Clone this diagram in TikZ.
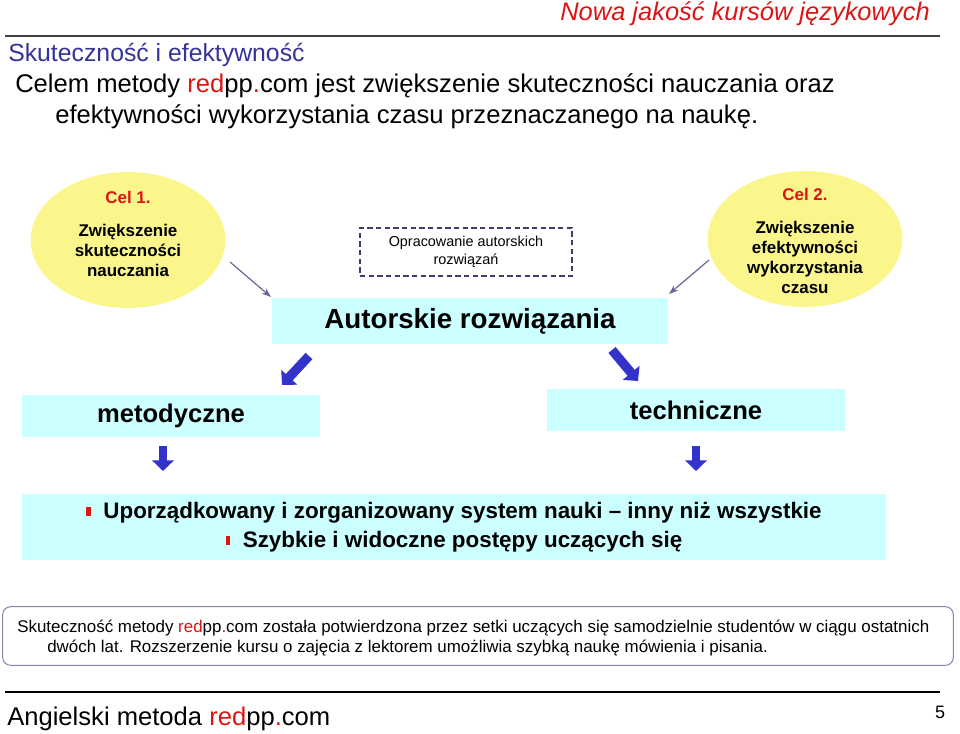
\documentclass[tikz,border=0pt]{standalone}
\usepackage{fontspec}
\setmainfont{Liberation Sans}
\usepackage{tikz}
\usetikzlibrary{arrows.meta,positioning,shapes.geometric}
\definecolor{cyanbox}{RGB}{204,255,255}
\definecolor{goalyellow}{RGB}{250,246,140}
\definecolor{headblue}{RGB}{51,51,153}
\definecolor{thinarrow}{RGB}{102,102,153}
\definecolor{blockblue}{RGB}{51,51,204}
\definecolor{dashblue}{RGB}{60,60,110}
\definecolor{redpp}{RGB}{220,20,20}
\newcommand{\redpp}{\textcolor{redpp}{red}pp\textcolor{redpp}{.}com}
\newcommand{\sqbullet}{\textcolor{redpp}{\rule[0.2ex]{3.5pt}{6.5pt}}\ \ }

\begin{document}
\begin{tikzpicture}[
            x=0.75pt, y=-0.75pt,
            plain/.style={inner sep=0pt, anchor=west},
            goal/.style={ellipse, fill=goalyellow, minimum width=146pt, minimum height=102pt, inner sep=0pt},
            goaltext/.style={align=center, font=\fontsize{12.7}{15}\selectfont\bfseries},
            solution/.style={rectangle, fill=cyanbox, inner sep=0pt},
            thin arrow/.style={draw=thinarrow, line width=0.9pt, -{Stealth[length=7pt,width=5pt]}},
            block arrow/.style={draw=blockblue, line width=7pt, -{Triangle[length=8pt,width=16pt]}}
        ]
        \useasboundingbox (0,0) rectangle (960,734);

        % Naglowek
        \node (motto) [inner sep=0pt, anchor=east, text=redpp, font=\fontsize{19.1}{20}\selectfont\itshape] at (930,14) {Nowa jakość kursów językowych};
        \coordinate (topl) at (5,36);
        \coordinate (topr) at (940,36);
        \draw [line width=1.6pt, black!75] (topl) -- (topr);
        \node (title) [plain, text=headblue, font=\fontsize{18.6}{20}\selectfont] at (8,55) {Skuteczność i efektywność};
        \node (intro1) [plain, font=\fontsize{19.2}{20}\selectfont] at (15,86) {Celem metody \redpp{} jest zwiększenie skuteczności nauczania oraz};
        \node (intro2) [plain, font=\fontsize{19.2}{20}\selectfont] at (55,117) {efektywności wykorzystania czasu przeznaczanego na naukę.};

        % Cele
        \node (goal1) [goal] at (128,240) {};
        \node (goal1txt) [goaltext] at (128,234) {\textcolor{redpp}{Cel 1.}\\[10pt]Zwiększenie\\skuteczności\\nauczania};
        \node (goal2) [goal] at (805,239) {};
        \node (goal2txt) [goaltext] at (805,241) {\textcolor{redpp}{Cel 2.}\\[10pt]Zwiększenie\\efektywności\\wykorzystania\\czasu};

        \node (draft) [rectangle, draw=dashblue, line width=0.9pt, dash pattern=on 4pt off 2.5pt, minimum width=159pt, minimum height=36pt, align=center, font=\fontsize{10.8}{13.5}\selectfont] at (466,252) {Opracowanie autorskich\\rozwiązań};

        \node (author) [solution, minimum width=297pt, minimum height=34pt, font=\fontsize{20.8}{22}\selectfont\bfseries] at (470,321) {Autorskie rozwiązania};

        \node (method) [solution, minimum width=224pt, minimum height=31pt, font=\fontsize{19.2}{20}\selectfont\bfseries] at (171,416) {metodyczne};
        \node (tech) [solution, minimum width=224pt, minimum height=31pt, font=\fontsize{19.2}{20}\selectfont\bfseries] at (696,410) {techniczne};

        \node (result) [solution, minimum width=648pt, minimum height=49pt, align=center, font=\fontsize{16.8}{21.5}\selectfont\bfseries] at (454,527) {\sqbullet Uporządkowany i zorganizowany system nauki -- inny niż wszystkie\\\sqbullet Szybkie i widoczne postępy uczących się};

        \node (proof) [rectangle, rounded corners=6pt, draw=thinarrow!80, line width=0.8pt, minimum width=713pt, minimum height=44pt] at (478,636) {};
        \node (prooftxt) [plain, align=left, font=\fontsize{12.7}{15}\selectfont] at (17,638) {Skuteczność metody \redpp{} została potwierdzona przez setki uczących się samodzielnie studentów w ciągu ostatnich\\\hspace*{22.5pt}dwóch lat. Rozszerzenie kursu o zajęcia z lektorem umożliwia szybką naukę mówienia i pisania.};

        % Stopka
        \coordinate (botl) at (5,692);
        \coordinate (botr) at (940,692);
        \draw [line width=1pt, black] (botl) -- (botr);
        \node (footer) [plain, font=\fontsize{19.2}{20}\selectfont] at (7,719) {Angielski metoda \redpp};
        \node (page) [inner sep=0pt, font=\fontsize{13.5}{15}\selectfont] at (940,712) {5};

        % Strzalki
        \coordinate (g1s) at (230,262);
        \coordinate (g1e) at (271,297);
        \coordinate (g2s) at (709,260);
        \coordinate (g2e) at (669,294);
        \draw [thin arrow] (g1s) -- (g1e);
        \draw [thin arrow] (g2s) -- (g2e);

        \coordinate (ms) at (309,356);
        \coordinate (me) at (282,385);
        \coordinate (ts) at (612,350);
        \coordinate (te) at (638,381);
        \draw [block arrow] (ms) -- (me);
        \draw [block arrow] (ts) -- (te);

        \coordinate (mds) at (163,446);
        \coordinate (mde) at (163,471);
        \coordinate (tds) at (696,446);
        \coordinate (tde) at (696,471);
        \draw [block arrow, line width=5.5pt] (mds) -- (mde);
        \draw [block arrow, line width=5.5pt] (tds) -- (tde);

    \end{tikzpicture}
\end{document}
